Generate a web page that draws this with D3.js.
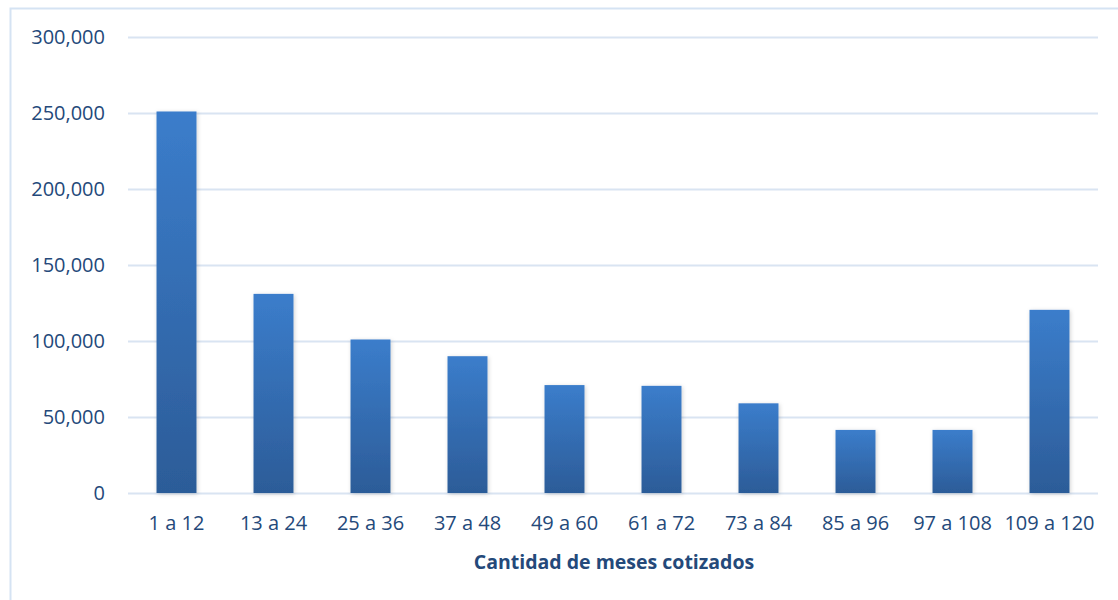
<!DOCTYPE html>
<meta charset="utf-8">
<style>
  body { margin: 0; background: #fff; }
  .axis text { font-family: "Open Sans", sans-serif; fill: #24497a; }
  .grid line { stroke: #d9e4f2; stroke-width: 2; }
</style>
<body>
<script src="https://d3js.org/d3.v7.min.js"></script>
<script>

// data
var categories = ["1 a 12", "13 a 24", "25 a 36", "37 a 48", "49 a 60",
                  "61 a 72", "73 a 84", "85 a 96", "97 a 108", "109 a 120"];
var values = [251000, 131000, 101000, 90000, 71000, 70500, 59000, 41500, 41500, 120500];
var yTicks = [0, 50000, 100000, 150000, 200000, 250000, 300000];
var xTitle = "Cantidad de meses cotizados";

var width = 1118, height = 600;
var margin = {top: 37, right: 20, bottom: 107, left: 128};
var plotW = 1098 - margin.left;

var svg = d3.select("body").append("svg")
    .attr("width", width)
    .attr("height", height);

var defs = svg.append("defs");
var grad = defs.append("linearGradient")
    .attr("id", "barGrad")
    .attr("x1", 0).attr("y1", 0).attr("x2", 0).attr("y2", 1);
grad.append("stop").attr("offset", "0%").attr("stop-color", "#3b7dcb");
grad.append("stop").attr("offset", "100%").attr("stop-color", "#2c5c98");

var shadow = defs.append("filter").attr("id", "shadow")
    .attr("x", "-30%").attr("y", "-10%").attr("width", "160%").attr("height", "120%");
shadow.append("feDropShadow")
    .attr("dx", 1).attr("dy", 1).attr("stdDeviation", 2)
    .attr("flood-color", "#000").attr("flood-opacity", 0.18);

// outer chart border
svg.append("rect")
    .attr("x", 10.5).attr("y", 8.5)
    .attr("width", width).attr("height", height)
    .attr("fill", "none")
    .attr("stroke", "#d5e3f3")
    .attr("stroke-width", 2);

var x = d3.scaleBand()
    .domain(categories)
    .range([margin.left, margin.left + plotW])
    .paddingInner(0.588)
    .paddingOuter(0.294);

var y = d3.scaleLinear()
    .domain([0, 300000])
    .range([493, margin.top]);

// gridlines
svg.append("g")
    .attr("class", "grid")
    .attr("transform", "translate(" + margin.left + ",0)")
    .call(d3.axisLeft(y).tickValues(yTicks).tickSize(-plotW).tickFormat(""))
    .call(function(g) { g.select(".domain").remove(); });

// y axis labels
svg.append("g")
    .attr("class", "axis")
    .attr("transform", "translate(105,0)")
    .call(d3.axisLeft(y).tickValues(yTicks).tickSize(0).tickPadding(0)
      .tickFormat(d3.format(",")))
    .call(function(g) { g.select(".domain").remove(); })
    .selectAll("text")
      .style("font-size", "20px");

// bars
svg.append("g")
    .selectAll("rect")
    .data(values)
    .enter().append("rect")
      .attr("x", function(d, i) { return x(categories[i]); })
      .attr("y", function(d) { return y(d); })
      .attr("width", x.bandwidth())
      .attr("height", function(d) { return y(0) - y(d); })
      .attr("fill", "url(#barGrad)")
      .attr("filter", "url(#shadow)");

// x axis labels
svg.append("g")
    .attr("class", "axis")
    .attr("transform", "translate(0,516)")
    .call(d3.axisBottom(x).tickSize(0).tickPadding(0))
    .call(function(g) { g.select(".domain").remove(); })
    .selectAll("text")
      .style("font-size", "20px");

svg.append("text")
    .attr("x", 614)
    .attr("y", 569)
    .attr("text-anchor", "middle")
    .style("font-family", "\"Open Sans\", sans-serif")
    .style("font-weight", "bold")
    .style("font-size", "19.5px")
    .style("fill", "#24497a")
    .text(xTitle);

</script>
</body>
</html>
